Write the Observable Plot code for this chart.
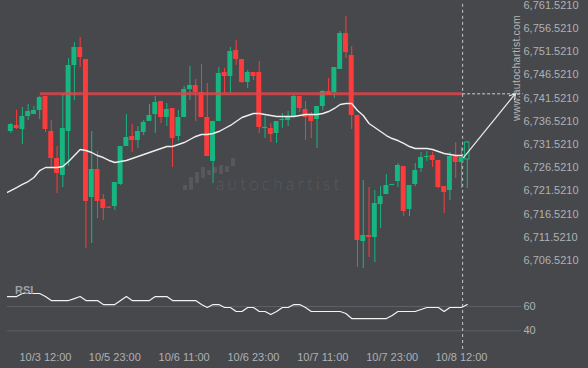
<!DOCTYPE html>
<html><head><meta charset="utf-8">
<script src="https://cdn.jsdelivr.net/npm/d3@7"></script>
<script src="https://cdn.jsdelivr.net/npm/@observablehq/plot@0.6"></script>
<style>
body{margin:0;background:#46484c;}
#wrap{position:relative;width:588px;height:368px;overflow:hidden;background:#46484c;font-family:"Liberation Sans",Arial,sans-serif;}
#wrap svg{display:block;}
.site{position:absolute;left:515.6px;top:67.5px;transform:translate(-50%,-50%) rotate(-90deg);white-space:nowrap;font-size:10.5px;color:#b3b5b8;letter-spacing:0.2px;}
.brand{position:absolute;left:216px;top:173px;font-family:Lato,"Open Sans",sans-serif;font-weight:300;font-size:17px;letter-spacing:3.3px;color:rgba(255,255,255,0.11);white-space:nowrap;}
.lb{position:absolute;width:4px;border-radius:1px;background:rgba(255,255,255,0.09);}
.rsi{position:absolute;left:15px;top:284px;font-size:11px;font-weight:bold;color:#9fa1a5;}
</style></head><body><div id="wrap"></div>
<script>
// ---- data (hourly candles, index 0..80) ----
const opens=[6731.08,6734.31,6735.61,6734.74,6737.54,6737.97,6738.84,6741.85,6734.31,6728.50,
6724.84,6734.31,6748.53,6752.41,6749.82,6720.09,6726.13,6719.66,6718.00,6718.16,
6722.90,6731.08,6733.24,6732.37,6734.10,6736.47,6737.97,6740.77,6737.33,6739.27,
6733.24,6737.33,6743.36,6744.22,6742.71,6737.33,6727.85,6736.47,6747.02,6746.16,
6751.76,6749.82,6744.87,6747.02,6747.02,6734.96,6734.96,6733.88,6736.68,6736.68,
6737.54,6741.85,6739.05,6737.76,6736.90,6739.70,6742.93,6742.71,6747.67,6755.42,
6750.68,6737.76,6710.62,6711.91,6711.48,6718.59,6720.74,6722.68,6723.54,6726.77,
6717.51,6722.90,6726.34,6728.71,6729.14,6728.07,6722.46,6721.60,6728.93,6727.63,
6728.28];
const highs=[6734.96,6736.00,6738.84,6739.48,6740.13,6739.70,6741.85,6741.85,6736.68,6731.08,
6742.50,6750.04,6753.48,6754.56,6749.82,6734.31,6730.00,6720.74,6718.00,6723.33,
6731.08,6737.97,6735.82,6735.39,6736.68,6740.13,6741.85,6740.77,6740.34,6739.27,
6738.84,6744.01,6748.31,6745.51,6748.74,6744.65,6736.47,6748.10,6747.88,6752.41,
6753.91,6749.82,6747.45,6747.02,6749.39,6737.54,6736.04,6736.47,6738.19,6738.62,
6742.07,6741.85,6740.77,6738.40,6739.70,6743.14,6745.73,6748.10,6755.85,6759.08,
6752.62,6737.76,6723.76,6722.25,6721.60,6722.46,6725.05,6722.90,6727.42,6726.77,
6722.68,6727.42,6729.79,6730.00,6729.79,6728.07,6722.46,6729.79,6731.94,6730.87,
6732.16];
const lows=[6730.65,6733.88,6734.74,6731.51,6736.68,6737.97,6736.90,6734.10,6726.56,6720.96,
6722.25,6726.77,6740.99,6748.10,6709.11,6710.18,6715.57,6715.14,6717.80,6717.30,
6722.70,6731.08,6729.79,6730.65,6733.45,6736.47,6733.88,6736.04,6735.39,6726.56,
6732.16,6737.33,6740.99,6736.47,6737.33,6728.93,6723.11,6736.47,6742.50,6742.50,
6748.53,6744.65,6743.57,6745.30,6733.88,6732.80,6731.94,6731.73,6734.96,6735.39,
6737.54,6738.40,6732.37,6732.80,6730.65,6738.84,6742.07,6741.42,6747.67,6750.04,
6734.74,6705.01,6704.80,6707.17,6706.09,6713.42,6720.74,6722.68,6722.25,6716.00,
6716.00,6722.46,6725.48,6727.85,6726.56,6722.00,6716.65,6719.45,6724.19,6722.03,
6722.03];
const closes=[6734.31,6735.82,6734.96,6737.54,6738.62,6738.84,6741.64,6734.74,6728.50,6725.27,
6734.96,6748.53,6752.41,6750.25,6719.23,6726.13,6719.23,6717.73,6717.80,6723.33,
6731.08,6733.02,6732.37,6734.31,6736.25,6737.76,6740.56,6737.33,6739.05,6732.80,
6737.33,6743.36,6744.22,6742.71,6737.33,6728.93,6736.47,6746.81,6746.16,6751.54,
6749.82,6744.87,6747.02,6746.16,6735.18,6735.18,6733.67,6736.47,6736.90,6737.54,
6741.85,6739.27,6737.33,6736.47,6739.70,6742.93,6742.07,6748.10,6755.42,6751.33,
6737.76,6710.83,6711.91,6711.48,6718.80,6720.31,6722.68,6722.90,6726.99,6717.08,
6722.68,6725.91,6728.71,6728.93,6728.07,6722.25,6721.17,6728.93,6727.63,6728.71,
6731.94];
const maValues=[6720.96,6721.60,6722.25,6722.90,6723.54,6724.40,6725.91,6726.56,6726.56,6726.56,
6726.77,6727.85,6729.14,6730.43,6730.22,6729.79,6729.14,6728.71,6728.07,6727.63,
6727.85,6728.07,6728.50,6728.93,6729.36,6729.79,6730.22,6730.65,6731.08,6731.08,
6731.51,6731.94,6732.59,6733.24,6733.67,6733.67,6733.88,6734.31,6734.96,6735.61,
6736.47,6737.33,6737.76,6738.19,6738.19,6737.97,6737.76,6737.54,6737.54,6737.54,
6737.54,6737.76,6737.97,6737.97,6737.97,6738.19,6738.62,6739.27,6740.13,6740.34,
6740.34,6738.84,6737.76,6736.04,6735.18,6734.31,6733.45,6732.80,6732.37,6731.73,
6731.08,6730.65,6730.65,6730.65,6730.43,6730.00,6729.57,6729.36,6729.14,6729.14];
const rsiValues=[68.2,68.2,68.2,70.7,70.7,70.7,70.7,68.2,64.9,64.9,
64.9,64.9,66.5,68.2,64.9,64.9,64.9,61.6,61.6,61.6,
64.9,68.2,64.9,64.9,64.9,64.9,68.2,68.2,68.2,64.9,
64.9,64.9,64.9,64.9,61.6,59.2,61.6,61.6,59.2,59.2,
55.9,55.9,59.2,59.2,55.9,55.9,53.4,55.9,59.2,59.2,
61.6,61.6,59.2,55.9,55.9,55.9,55.9,55.9,55.9,54.2,
50.1,50.1,50.1,50.1,50.1,50.1,50.1,52.6,55.9,55.9,
55.9,55.9,57.5,59.2,59.2,59.2,55.9,59.2,59.2,59.2,
61.6];
const tickIndex=[7,19,31,43,55,67,79];
const tickLabels=["10/3 12:00","10/5 23:00","10/6 11:00","10/6 23:00","10/7 11:00","10/7 23:00","10/8 12:00"];
const priceTicks=[6706.521,6711.521,6716.521,6721.521,6726.521,6731.521,6736.521,6741.521,6746.521,6751.521,6756.521,6761.521];
const rsiTicks=[40,60];
const resistanceLevel=6742.43;
const resistanceStart=6.1;
const currentIndex=79.2;
const projection=[{i1:79.35,p1:6728.71,i2:88.35,p2:6742.50}];

// ---- chart ----
const GREEN="#17b57f", RED="#fd3b3b", BG="#46484c";
const xDomain=[0.424,88.35];
const candles=opens.map((o,i)=>{
  const c=closes[i];
  let lo=Math.min(o,c), hi=Math.max(o,c);
  if(hi-lo<0.25){const m=(hi+lo)/2;lo=m-0.125;hi=m+0.125;}
  return {i,o,h:highs[i],l:lows[i],c,lo,hi,col:c>=o?GREEN:RED};
});
const last=candles[candles.length-1];
const body=candles.slice(0,-1);
const style={background:"transparent",color:"#afb1b4",fontSize:"11px",fontFamily:"'Liberation Sans',Arial,sans-serif",overflow:"visible"};

const main=Plot.plot({
  width:588,height:280,marginLeft:7,marginRight:73,marginTop:0,marginBottom:0,
  style,
  color:{type:"identity"},
  x:{domain:xDomain,axis:null},
  y:{domain:[6702.22,6762.53],axis:"right",ticks:priceTicks,tickFormat:d3.format(",.4f"),tickSize:0,tickPadding:8,label:null},
  marks:[
    Plot.ruleX([currentIndex],{y1:6761.7,y2:6702.22,stroke:"#c4c6c9",strokeDasharray:"3,3",strokeWidth:1}),
    Plot.ruleX(candles,{x:"i",y1:"l",y2:"h",stroke:"col",strokeWidth:1,clip:true}),
    Plot.rect(body,{x1:d=>d.i-0.43,x2:d=>d.i+0.43,y1:"lo",y2:"hi",fill:"col",clip:true}),
    Plot.rect([last],{x1:d=>d.i-0.38,x2:d=>d.i+0.38,y1:"lo",y2:"hi",fill:BG,stroke:"col",strokeWidth:1}),
    Plot.line(maValues.map((v,i)=>({i,v})),{x:"i",y:"v",stroke:"#eeeeee",strokeWidth:1.4,clip:true}),
    Plot.ruleY([resistanceLevel],{x1:resistanceStart,x2:currentIndex,stroke:"#e0464b",strokeWidth:3,strokeOpacity:0.82}),
    Plot.ruleY([resistanceLevel],{x1:currentIndex,x2:89.7,stroke:"#cfd1d3",strokeWidth:1,strokeDasharray:"3,2"}),
    Plot.arrow(projection,{x1:"i1",y1:"p1",x2:"i2",y2:"p2",stroke:"#e8e8e8",strokeWidth:1.2,headLength:8,bend:0})
  ]
});

const rsiChart=Plot.plot({
  width:588,height:88,marginLeft:7,marginRight:73,marginTop:0,marginBottom:18,
  style,
  x:{domain:xDomain,ticks:tickIndex,tickFormat:d=>tickLabels[tickIndex.indexOf(d)],tickSize:0,tickPadding:3,label:null},
  y:{domain:[23.8,81.4],axis:"right",ticks:rsiTicks,tickSize:0,tickPadding:8,label:null},
  marks:[
    Plot.ruleY(rsiTicks,{x1:0.424,x2:89.4,stroke:"#5c5f63",strokeWidth:1}),
    Plot.ruleX([currentIndex],{stroke:"#c4c6c9",strokeDasharray:"3,3",strokeWidth:1}),
    Plot.line(rsiValues.map((v,i)=>({i,v})),{x:"i",y:"v",stroke:"#f2f2f2",strokeWidth:1.2,clip:true})
  ]
});

const wrap=document.getElementById("wrap");
wrap.append(main,rsiChart);
wrap.insertAdjacentHTML("beforeend",
 '<div class="site">www.autochartist.com</div>'+
 '<div class="brand">autochartist</div>'+
 '<div class="lb" style="left:183px;top:185px;height:5px"></div>'+
 '<div class="lb" style="left:189px;top:177px;height:13px"></div>'+
 '<div class="lb" style="left:195px;top:172px;height:11px"></div>'+
 '<div class="lb" style="left:201px;top:167px;height:11px"></div>'+
 '<div class="lb" style="left:207px;top:170px;height:5px"></div>'+
 '<div class="lb" style="left:213px;top:167px;height:6px"></div>'+
 '<div class="lb" style="left:219px;top:165px;height:9px"></div>'+
 '<div class="lb" style="left:225px;top:166px;height:6px"></div>'+
 '<div class="lb" style="left:231px;top:158px;height:8px"></div>'+
 '<div class="rsi">RSI</div>');
</script>
</body></html>
